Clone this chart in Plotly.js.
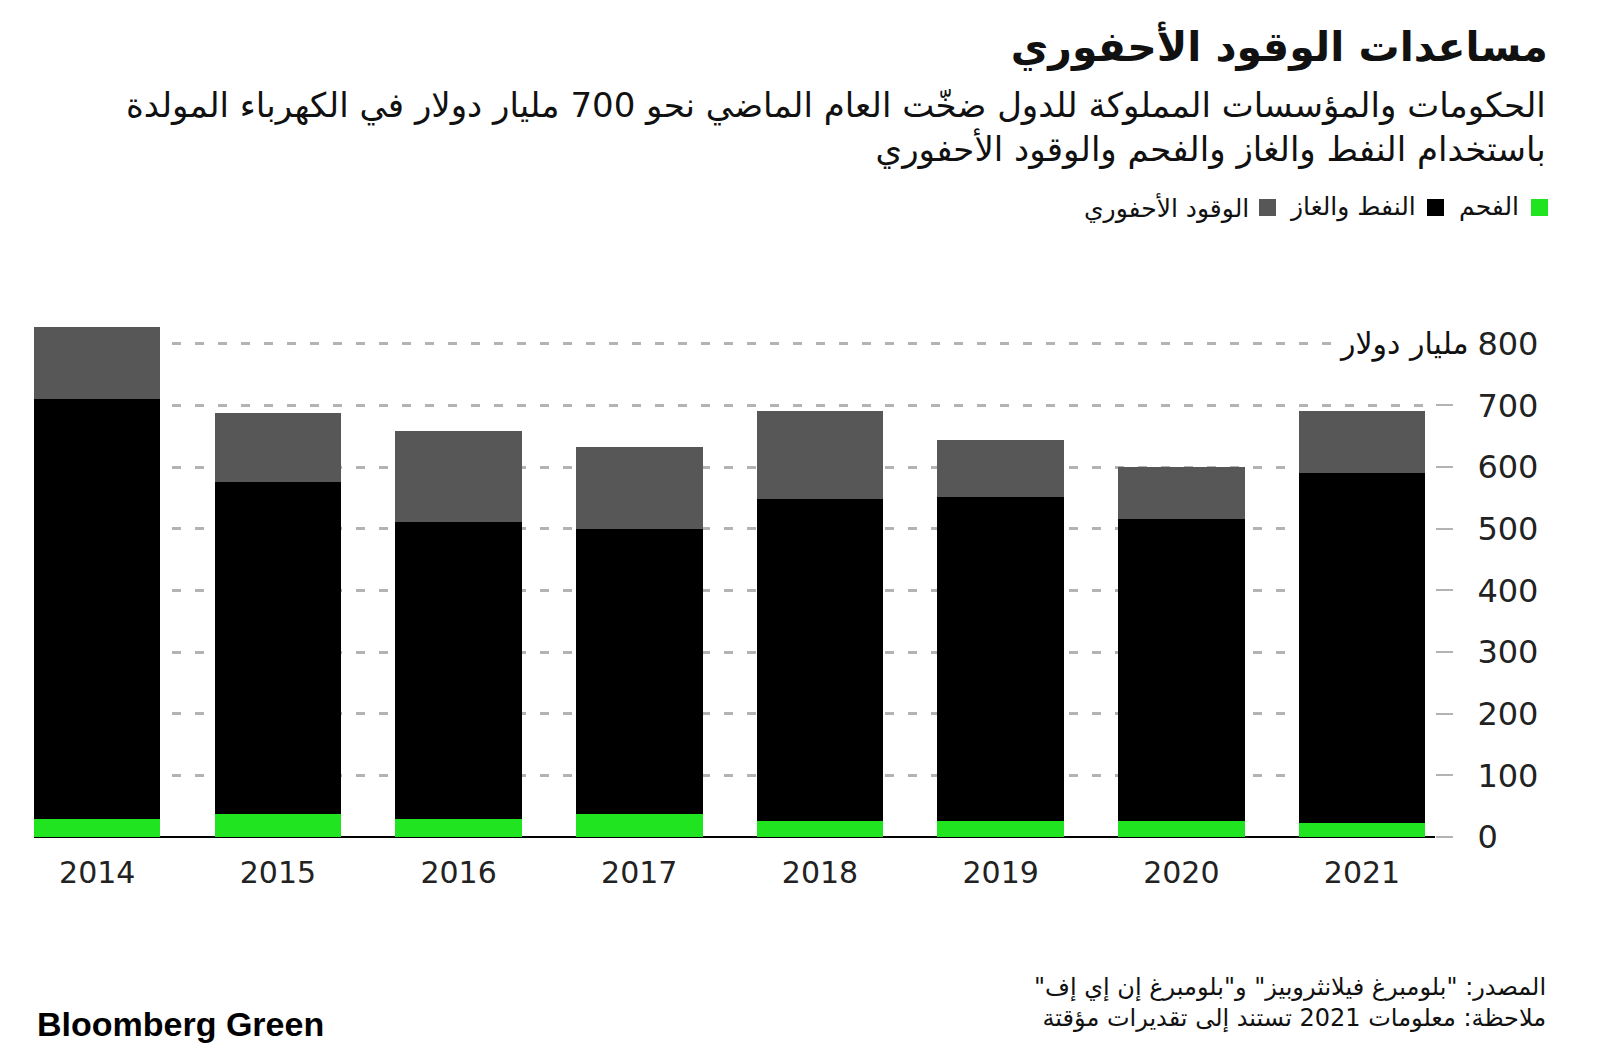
<!DOCTYPE html>
<html>
<head>
<meta charset="utf-8">
<script src="https://cdn.plot.ly/plotly-3.0.1.min.js"></script>
<style>html,body{margin:0;padding:0;background:#fff;}#chart{width:1600px;height:1058px;}</style>
</head>
<body>
<div id="chart"></div>
<script>
// ---- data ----
const years = ['2014','2015','2016','2017','2018','2019','2020','2021'];
const coal = [29, 38, 29, 37, 26, 26, 26, 22];
const oilGas = [682, 538, 482, 463, 522, 526, 489, 569];
const fossilElectricity = [116, 111, 147, 132, 143, 91, 85, 100];
const yTicks = [0, 100, 200, 300, 400, 500, 600, 700, 800];
const seriesNames = ['الفحم', 'النفط والغاز', 'الوقود الأحفوري'];
const seriesColors = ['#1fe41f', '#000000', '#575757'];

// ---- layout helpers (pixel -> paper) ----
const L = 34, R = 1435, T = 319, B = 837;
const W = 1600, H = 1058;
const px = x => (x - L) / (R - L);
const py = y => (B - y) / (B - T);
const AR = '"DejaVu Sans", "Noto Sans", sans-serif';
const NUM = '"DejaVu Sans", "Liberation Sans", sans-serif';
const LAT = '"Liberation Sans", Arial, sans-serif';
const RLM = '\u200F';

const traces = [coal, oilGas, fossilElectricity].map((v, i) => ({
  type: 'bar', x: years, y: v, name: seriesNames[i],
  marker: {color: seriesColors[i], line: {width: 0}},
  hoverinfo: 'x+y+name'
}));

const annotations = [
  {text: RLM + 'الحكومات والمؤسسات المملوكة للدول ضخّت العام الماضي نحو 700 مليار دولار في الكهرباء المولدة' + RLM + '<br>' + RLM + 'باستخدام النفط والغاز والفحم والوقود الأحفوري' + RLM,
   xref: 'paper', yref: 'paper', x: px(1548), y: py(128), xanchor: 'right', yanchor: 'middle', align: 'right',
   showarrow: false, font: {family: AR, size: 34, color: '#111'}},
  // legend
  {text: seriesNames[0], xref: 'paper', yref: 'paper', x: px(1521), y: py(207), xanchor: 'right', yanchor: 'middle', showarrow: false, font: {family: AR, size: 25, color: '#111'}},
  {text: seriesNames[1], xref: 'paper', yref: 'paper', x: px(1418), y: py(207), xanchor: 'right', yanchor: 'middle', showarrow: false, font: {family: AR, size: 25, color: '#111'}},
  {text: seriesNames[2], xref: 'paper', yref: 'paper', x: px(1251), y: py(207), xanchor: 'right', yanchor: 'middle', showarrow: false, font: {family: AR, size: 25, color: '#111'}},
  // unit label on top tick
  {text: 'مليار دولار', xref: 'paper', yref: 'y', x: px(1471), y: 800, xanchor: 'right', yanchor: 'middle', showarrow: false,
   bgcolor: '#ffffff', borderpad: 1, font: {family: AR, size: 30, color: '#111'}},
  // footer
  {text: RLM + 'المصدر: "بلومبرغ فيلانثروبيز" و"بلومبرغ إن إي إف"' + RLM + '<br>' + RLM + 'ملاحظة: معلومات 2021 تستند إلى تقديرات مؤقتة' + RLM,
   xref: 'paper', yref: 'paper', x: px(1548), y: py(1003), xanchor: 'right', yanchor: 'middle', align: 'right',
   showarrow: false, font: {family: AR, size: 24, color: '#111'}},
  {text: '<b>Bloomberg Green</b>', xref: 'paper', yref: 'paper', x: px(35), y: py(1024), xanchor: 'left', yanchor: 'middle',
   showarrow: false, font: {family: LAT, size: 34, color: '#000'}}
];

const sq = (x0, c) => ({type: 'rect', xref: 'paper', yref: 'paper', x0: px(x0), x1: px(x0 + 17), y0: py(216), y1: py(199), fillcolor: c, line: {width: 0}});
const shapes = [sq(1531, seriesColors[0]), sq(1427, seriesColors[1]), sq(1259, seriesColors[2])];

const layout = {
  width: W, height: H,
  margin: {l: L, r: W - R, t: T, b: H - B, pad: 0},
  paper_bgcolor: '#fff', plot_bgcolor: '#fff',
  barmode: 'stack', bargap: 0.3,
  showlegend: false,
  title: {text: '<b>مساعدات الوقود الأحفوري</b>', xref: 'container', yref: 'container', x: 1548 / W, xanchor: 'right',
          y: 1 - 47 / H, yanchor: 'middle', font: {family: AR, size: 41, color: '#111'}},
  xaxis: {type: 'category', range: [-0.35, 7.404], showgrid: false, showline: false, zeroline: false,
          ticks: '', tickfont: {family: NUM, size: 30, color: '#222'}, ticklabelstandoff: 15, fixedrange: true},
  yaxis: {side: 'right', range: [0, 840], tickvals: yTicks, ticktext: yTicks.map(String),
          showgrid: true, gridcolor: '#b3b3b3', gridwidth: 3, griddash: '9px,14px',
          zeroline: true, zerolinecolor: '#000', zerolinewidth: 2,
          ticks: 'outside', ticklen: 17, tickwidth: 2, tickcolor: '#b3b3b3', ticklabelstandoff: 18,
          tickfont: {family: NUM, size: 32, color: '#222'}, fixedrange: true},
  annotations: annotations,
  shapes: shapes,
  font: {family: AR}
};

Plotly.newPlot('chart', traces, layout, {displayModeBar: false, staticPlot: true});
</script>
</body>
</html>
